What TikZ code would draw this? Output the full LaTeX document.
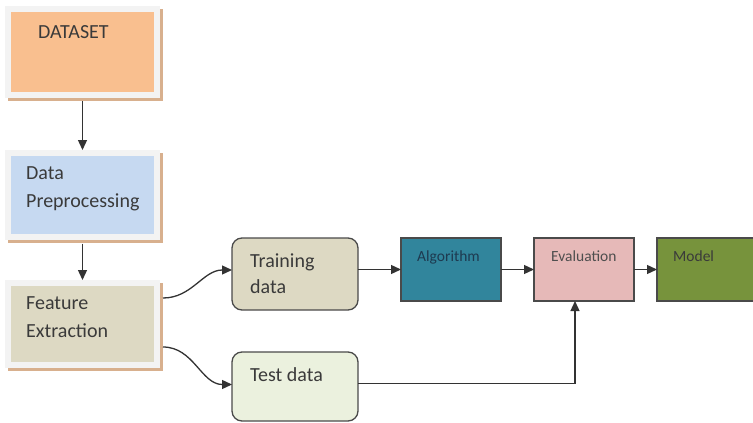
\documentclass[tikz,border=0pt]{standalone}
\usepackage{fontspec}
\setmainfont{Carlito}
\usetikzlibrary{arrows.meta,backgrounds,calc}

\definecolor{orangefill}{HTML}{F9BF8F}
\definecolor{bluefill}{HTML}{C6D9F1}
\definecolor{tanfill}{HTML}{DDD9C3}
\definecolor{greenfill}{HTML}{EBF1DE}
\definecolor{tealfill}{HTML}{31859C}
\definecolor{pinkfill}{HTML}{E6B9B8}
\definecolor{olivefill}{HTML}{77933C}
\definecolor{framec}{HTML}{F3F3F3}
\definecolor{shadowc}{HTML}{D8B08E}
\definecolor{edgec}{HTML}{4A4A4A}
\definecolor{textc}{HTML}{3A3A3A}
\definecolor{algtext}{HTML}{1E3A50}
\definecolor{linec}{HTML}{333333}

\begin{document}
\begin{tikzpicture}[x=1pt,y=-1pt,
  framed/.style={draw=framec, line width=6pt, outer sep=0pt, inner sep=0pt,
                 minimum width=149pt},
  rbox/.style={draw=edgec, line width=1.3pt, rounded corners=10pt, outer sep=0pt,
               inner sep=0pt, minimum width=126pt},
  sbox/.style={draw=edgec, line width=1.3pt, outer sep=0pt, inner sep=0pt,
               minimum width=100pt, minimum height=63pt},
  bigtxt/.style={text=textc, font=\fontsize{20}{28}\selectfont, inner sep=0pt,
                 anchor=base west},
  smalltxt/.style={text=textc, font=\fontsize{15.5}{18}\selectfont, inner sep=0pt,
                   anchor=base west},
  arr/.style={draw=linec, line width=1.3pt, -{Triangle[length=10pt,width=9pt]}}]

\useasboundingbox (0,0) rectangle (753,423);
\clip (0,0) rectangle (753,423);

% framed boxes of the left column
\node[framed, fill=orangefill, minimum height=86pt] (ds) at (82.5,51.5) {};
\node[framed, fill=bluefill,   minimum height=84pt] (dp) at (82.5,195) {};
\node[framed, fill=tanfill,    minimum height=82pt] (fe) at (82.5,324) {};

% offset shadows behind the framed boxes
\begin{scope}[on background layer]
  \foreach \b in {ds,dp,fe}
    \fill[shadowc] (\b.north west) rectangle ([xshift=6pt,yshift=-6pt]\b.south east);
\end{scope}

% rounded data boxes
\node[rbox, fill=tanfill,   minimum height=72pt] (tr) at (295,274) {};
\node[rbox, fill=greenfill, minimum height=69pt] (te) at (295,386.5) {};

% pipeline boxes
\node[sbox, fill=tealfill]  (al) at (451,269.5) {};
\node[sbox, fill=pinkfill]  (ev) at (584,269.5) {};
\node[sbox, fill=olivefill, minimum width=110pt] (mo) at (712,269.5) {};

% labels (base anchor sits on the last line)
\node[bigtxt] (tds) at (38,38.5) {DATASET};
\node[bigtxt, align=left] (tdp) at (26,207) {Data\\Preprocessing};
\node[bigtxt, align=left] (tfe) at (26,337) {Feature\\Extraction};
\node[bigtxt, align=left, font=\fontsize{20}{26}\selectfont] (ttr) at (250,293) {Training\\data};
\node[bigtxt] (tte) at (250,381.5) {Test data};
\node[smalltxt, text=algtext] (tal) at (417,261.5) {Algorithm};
\node[smalltxt, text=textc!90] (tev) at (551,261.5) {Evaluation};
\node[smalltxt] (tmo) at (673,261.5) {Model};

% connectors
\draw[arr] ([yshift=-6.5pt]ds.south) -- ([yshift=3pt]dp.north);
\draw[arr] ([yshift=-6.5pt]dp.south) -- ([yshift=3pt]fe.north);
\draw[arr] ([shift={(6pt,26pt)}]fe.east) to[out=0,in=180] ([yshift=4pt]tr.west);
\draw[arr] ([shift={(6pt,-23pt)}]fe.east) to[out=0,in=180] ([yshift=2pt]te.west);
\draw[arr] (tr.east |- al.west) -- (al.west);
\draw[arr] (al.east) -- (ev.west);
\draw[arr] (ev.east) -- (mo.west);
\draw[arr] ([yshift=3pt]te.east) -| ([xshift=-9pt]ev.south);
\end{tikzpicture}
\end{document}
